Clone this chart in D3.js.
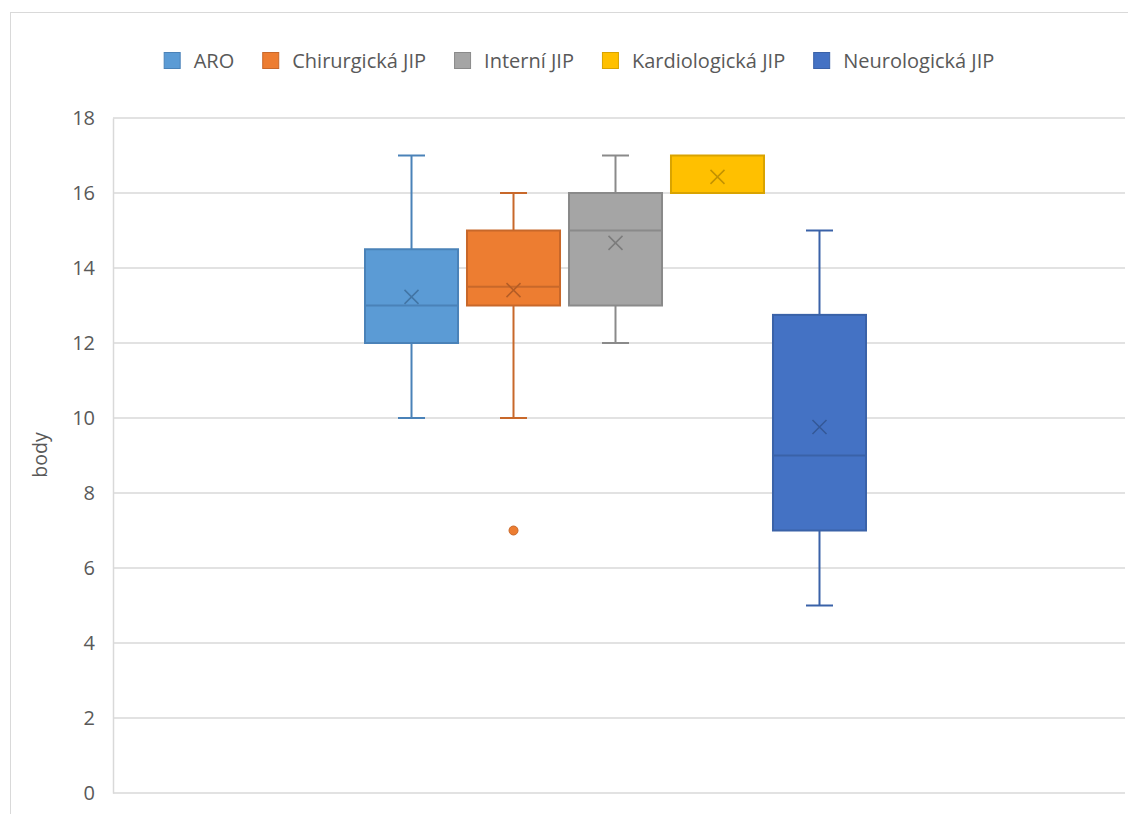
<!DOCTYPE html>
<html><head><meta charset="utf-8">
<script src="https://cdn.jsdelivr.net/npm/d3@7"></script>
<style>body{margin:0;background:#fff;}svg{display:block;font-family:"Open Sans",sans-serif;}</style>
</head><body><svg id="c" width="1128" height="814"></svg>
<script>
const series = ["ARO","Chirurgická JIP","Interní JIP","Kardiologická JIP","Neurologická JIP"];
const fills = ["#5B9BD5","#ED7D31","#A5A5A5","#FFC000","#4472C4"];
const strokes = ["#4A82B8","#C8682A","#8A8A8A","#D9A300","#3A62A8"];
const mins = [10,10,12,16,5];
const q1s = [12,13,13,16,7];
const medians = [13,13.5,15,16,9];
const q3s = [14.5,15,16,17,12.75];
const maxs = [17,16,17,17,15];
const means = [13.23,13.41,14.67,16.43,9.76];
const outliers = [[],[7],[],[],[]];
const yTicks = [0,2,4,6,8,10,12,14,16,18];

const svg = d3.select("#c");
const L = 113, R = 1125, T = 118, B = 793;
svg.append("rect").attr("x",10.5).attr("y",12.5).attr("width",1140).attr("height",830)
  .attr("fill","none").attr("stroke","#D9D9D9").attr("stroke-width",1);

const y = d3.scaleLinear().domain([0,18]).range([B,T]);
const center = 615.5, groupW = 501;
const x = d3.scaleBand().domain(series).range([center-groupW/2, center+groupW/2]).paddingInner(0.088);

svg.append("g").selectAll("line").data(yTicks).join("line")
  .attr("x1",L).attr("x2",R).attr("y1",d=>y(d)).attr("y2",d=>y(d))
  .attr("stroke","#D9D9D9").attr("stroke-width",1.5);
const ax = svg.append("g").attr("transform",`translate(${L},0)`)
  .call(d3.axisLeft(y).tickValues(yTicks).tickSize(0).tickPadding(18));
ax.select(".domain").attr("stroke","#D9D9D9").attr("stroke-width",1.5);
ax.selectAll("text").attr("fill","#595959").style("font-size","20px").style("font-family","Open Sans");

svg.append("text").attr("transform",`translate(47,455) rotate(-90)`).attr("text-anchor","middle")
  .attr("fill","#595959").style("font-size","19.5px").text("body");

const data = series.map((s,i)=>({s,i,min:mins[i],q1:q1s[i],med:medians[i],q3:q3s[i],max:maxs[i],mean:means[i],out:outliers[i]}));
const g = svg.append("g").selectAll("g").data(data).join("g");
const cx = d => x(d.s)+x.bandwidth()/2;
g.append("line").attr("x1",cx).attr("x2",cx).attr("y1",d=>y(d.max)).attr("y2",d=>y(d.q3))
  .attr("stroke",d=>strokes[d.i]).attr("stroke-width",2);
g.append("line").attr("x1",cx).attr("x2",cx).attr("y1",d=>y(d.q1)).attr("y2",d=>y(d.min))
  .attr("stroke",d=>strokes[d.i]).attr("stroke-width",2);
g.append("line").attr("x1",d=>cx(d)-13.5).attr("x2",d=>cx(d)+13.5).attr("y1",d=>y(d.max)).attr("y2",d=>y(d.max))
  .attr("stroke",d=>strokes[d.i]).attr("stroke-width",2).attr("display",d=>d.max===d.q3?"none":null);
g.append("line").attr("x1",d=>cx(d)-13.5).attr("x2",d=>cx(d)+13.5).attr("y1",d=>y(d.min)).attr("y2",d=>y(d.min))
  .attr("stroke",d=>strokes[d.i]).attr("stroke-width",2).attr("display",d=>d.min===d.q1?"none":null);
g.append("rect").attr("x",d=>x(d.s)).attr("width",x.bandwidth())
  .attr("y",d=>y(d.q3)).attr("height",d=>y(d.q1)-y(d.q3))
  .attr("fill",d=>fills[d.i]).attr("stroke",d=>strokes[d.i]).attr("stroke-width",2);
g.append("line").attr("x1",d=>x(d.s)).attr("x2",d=>x(d.s)+x.bandwidth()).attr("y1",d=>y(d.med)).attr("y2",d=>y(d.med))
  .attr("stroke",d=>strokes[d.i]).attr("stroke-width",2);
const m = 7;
g.append("path").attr("d",d=>{const a=cx(d),b=y(d.mean);return `M${a-m},${b-m}L${a+m},${b+m}M${a-m},${b+m}L${a+m},${b-m}`;})
  .attr("stroke",d=>d3.color(strokes[d.i]).darker(0.3)).attr("stroke-width",1.5).attr("fill","none");
g.selectAll("circle").data(d=>d.out.map(v=>({v,i:d.i,s:d.s}))).join("circle")
  .attr("cx",d=>x(d.s)+x.bandwidth()/2).attr("cy",d=>y(d.v)).attr("r",4.5)
  .attr("fill",d=>fills[d.i]).attr("stroke",d=>strokes[d.i]).attr("stroke-width",1);

const leg = svg.append("g");
const items = leg.selectAll("g").data(series).join("g");
items.append("rect").attr("width",16).attr("height",16).attr("x",0.5).attr("y",52.5)
  .attr("fill",(d,i)=>fills[i]).attr("stroke",(d,i)=>strokes[i]).attr("stroke-width",1);
items.append("text").attr("x",30).attr("y",68).attr("fill","#595959").style("font-size","20px").text(d=>d);
const widths=[];
items.each(function(){ const w = d3.select(this).select("text").node().getComputedTextLength(); widths.push(30+w); });
const gap = 28;
const total = d3.sum(widths)+gap*(widths.length-1);
let xpos = 579 - total/2;
items.attr("transform",(d,i)=>{const t=`translate(${xpos},0)`; xpos += widths[i]+gap; return t;});
</script></body></html>
